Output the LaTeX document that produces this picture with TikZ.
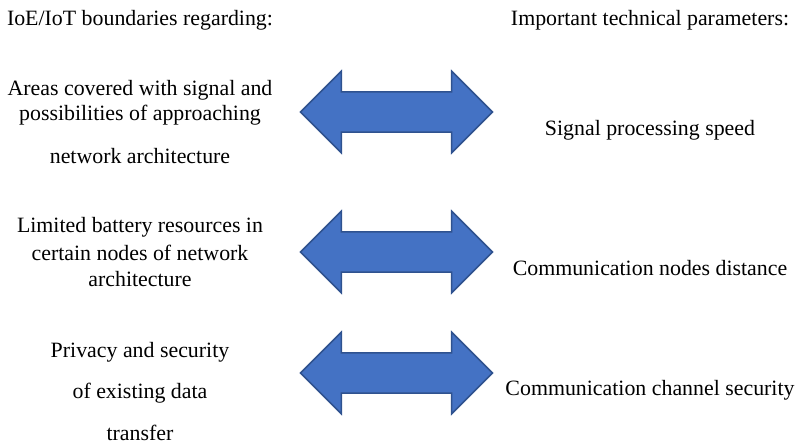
\documentclass[tikz,border=0pt]{standalone}
\usepackage{fontspec}
\setmainfont{Liberation Serif}
\usetikzlibrary{shapes.arrows}

\definecolor{arrowfill}{HTML}{4472C4}
\definecolor{arrowline}{HTML}{2F528F}

\begin{document}
\begin{tikzpicture}[x=0.75pt, y=-0.75pt,
  every node/.style={font=\fontsize{16.4}{19}\selectfont, inner sep=0pt},
  txt/.style={anchor=base},
  twoway/.style={double arrow, draw=arrowline, fill=arrowfill, line width=1.1pt,
    inner ysep=14.6pt, minimum height=144pt, minimum width=60pt,
    double arrow head extend=15.5pt, double arrow tip angle=90}]
  \useasboundingbox (0,0) rectangle (798,446);
  % headers
  \node [txt] (lefthead) at (140,25) {IoE/IoT boundaries regarding:};
  \node [txt] (righthead) at (650,25) {Important technical parameters:};
  % left column
  \node [txt] (area1) at (140,95) {Areas covered with signal and};
  \node [txt] (area2) at (140,120) {possibilities of approaching};
  \node [txt] (area3) at (140,163) {network architecture};
  \node [txt] (batt1) at (140,232) {Limited battery resources in};
  \node [txt] (batt2) at (140,260) {certain nodes of network};
  \node [txt] (batt3) at (140,286) {architecture};
  \node [txt] (priv1) at (140,357) {Privacy and security};
  \node [txt] (priv2) at (140,398) {of existing data};
  \node [txt] (priv3) at (140,440) {transfer};
  % right column
  \node [txt] (speed) at (650,135) {Signal processing speed};
  \node [txt] (dist) at (650,275) {Communication nodes distance};
  \node [txt] (secu) at (650,395) {Communication channel security};
  % arrows
  \node [twoway] (arrow1) at (396.5,112) {};
  \node [twoway] (arrow2) at (396.5,252) {};
  \node [twoway] (arrow3) at (396.5,373) {};
\end{tikzpicture}
\end{document}
